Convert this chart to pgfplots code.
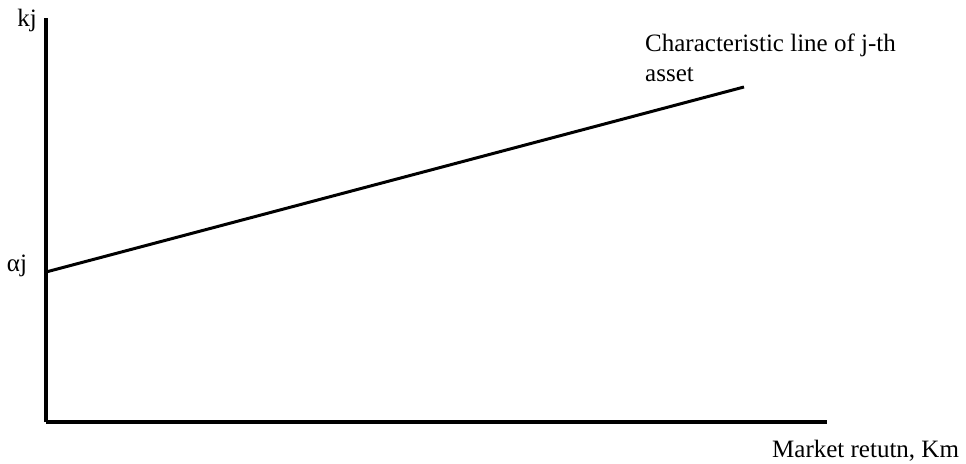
\documentclass[border=0pt]{standalone}
\usepackage{pgfplots}
\pgfplotsset{compat=1.18}
\usepackage{fontspec}
\setmainfont{Liberation Serif}
\begin{document}
\begin{tikzpicture}
\begin{axis}[
  name=ax,
  scale only axis,
  width=781pt, height=404pt,
  xmin=0, xmax=781, ymin=0, ymax=404,
  axis x line=bottom, axis y line=left,
  axis line style={-, line width=3.5pt, black},
  xtick=\empty, ytick=\empty,
  clip=false,
]
\addplot[black, line width=3pt] coordinates {(0,150) (698,335)};
\node[anchor=base, inner sep=0pt, font=\fontsize{25}{30}\selectfont] at (axis cs:-19,395) {kj};
\node[anchor=base, inner sep=0pt, font=\fontsize{25}{30}\selectfont] at (axis cs:-29,150) {αj};
\node[anchor=base west, inner sep=0pt, font=\fontsize{25}{30}\selectfont] at (axis cs:599,370) {Characteristic line of j-th};
\node[anchor=base west, inner sep=0pt, font=\fontsize{25}{30}\selectfont] at (axis cs:599,340) {asset};
\node[anchor=base west, inner sep=0pt, font=\fontsize{25}{30}\selectfont] at (axis cs:726,-35) {Market retutn, Km};
\end{axis}
\pgfresetboundingbox
\path[use as bounding box] ([shift={(-46pt,-41pt)}]ax.south west) rectangle ([shift={(139pt,18pt)}]ax.north east);
\end{tikzpicture}
\end{document}
